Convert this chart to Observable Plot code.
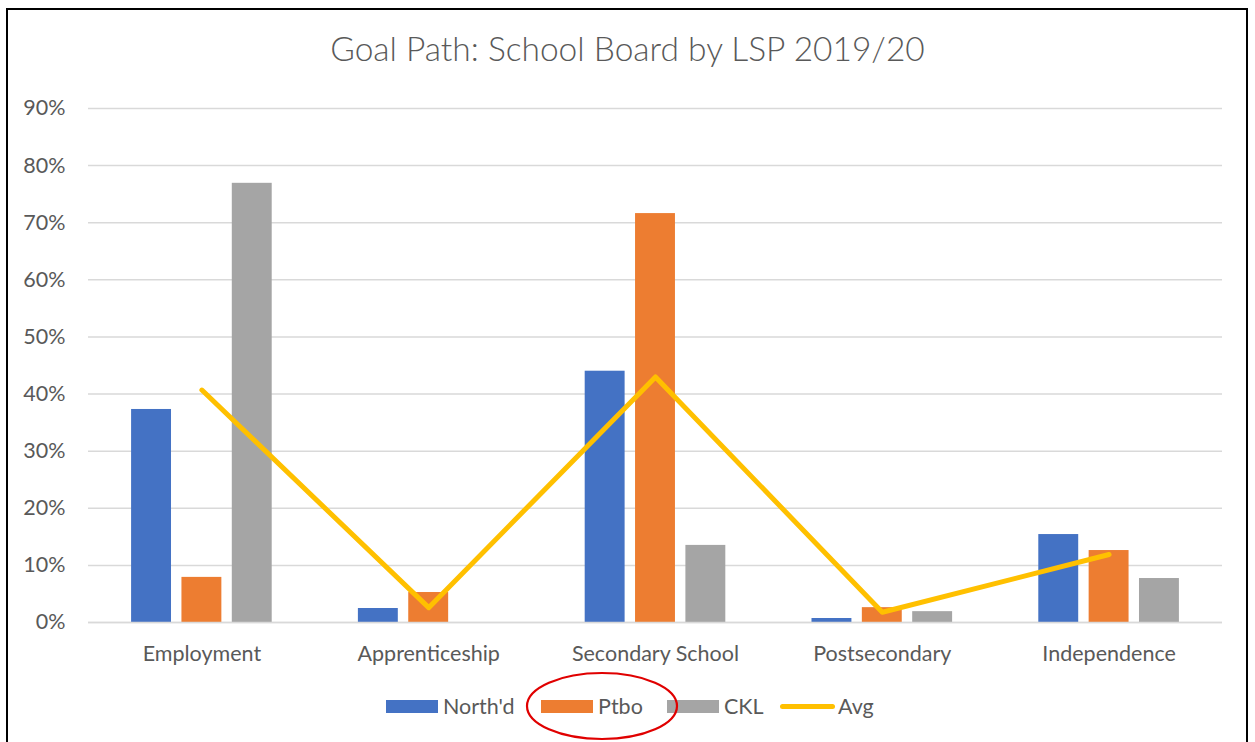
<!DOCTYPE html>
<html>
<head>
<meta charset="utf-8">
<script src="https://cdn.jsdelivr.net/npm/d3@7"></script>
<script src="https://cdn.jsdelivr.net/npm/@observablehq/plot@0.6"></script>
<style>
  html, body { margin: 0; padding: 0; background: #fff; }
  #wrap { position: relative; width: 1255px; height: 742px; overflow: hidden; font-family: Lato, "Open Sans", sans-serif; color: #595959; }
  #frame { position: absolute; left: 6px; top: 8px; width: 1242px; height: 760px; border: 2px solid #000; box-sizing: border-box; }
  #title { position: absolute; left: 0; width: 1255px; top: 28px; text-align: center; font-size: 33.5px; font-weight: 300; color: #595959; }
  #chart { position: absolute; left: 0; top: 90px; }
  #legend { position: absolute; left: 0; top: 693px; width: 1255px; height: 26px; }
  .li { position: absolute; top: 0; height: 26px; display: flex; align-items: center; font-size: 21.5px; color: #595959; }
  .sw { display: inline-block; width: 52px; height: 13px; margin-right: 5px; }
  .ln { display: inline-block; width: 55px; height: 5px; border-radius: 3px; margin-right: 3px; }
  #ring { position: absolute; left: 0; top: 0; pointer-events: none; }
</style>
</head>
<body>
<div id="wrap">
  <div id="frame"></div>
  <div id="title">Goal Path: School Board by LSP 2019/20</div>
  <div id="chart"></div>
  <div id="legend"></div>
  <svg id="ring" width="1255" height="742"><ellipse cx="602" cy="706" rx="75" ry="33" fill="none" stroke="#e00000" stroke-width="2.2"/></svg>
</div>
<script>
const categories = ["Employment", "Apprenticeship", "Secondary School", "Postsecondary", "Independence"];
const seriesNames = ["North'd", "Ptbo", "CKL"];
const northd = [0.373, 0.0245, 0.440, 0.007, 0.154];
const ptbo   = [0.079, 0.0525, 0.716, 0.026, 0.126];
const ckl    = [0.769, 0.000, 0.135, 0.019, 0.077];
const avg    = [0.407, 0.026, 0.430, 0.018, 0.119];
const yTicks = [0, 0.1, 0.2, 0.3, 0.4, 0.5, 0.6, 0.7, 0.8, 0.9];
const seriesColors = ["#4472C4", "#ED7D31", "#A5A5A5"];
const avgColor = "#FFC000";

const seriesValues = [northd, ptbo, ckl];
const rows = [];
seriesValues.forEach((vals, j) => vals.forEach((v, i) => rows.push({i, j, category: categories[i], series: seriesNames[j], value: v})));
const avgRows = avg.map((v, i) => ({i, value: v}));

const step = 0.222, half = 0.088;

const chart = Plot.plot({
  width: 1255,
  height: 590,
  marginLeft: 88,
  marginRight: 33,
  marginTop: 18,
  marginBottom: 58,
  style: { fontFamily: "Lato, 'Open Sans', sans-serif", fontSize: "21.5px", color: "#595959", background: "transparent" },
  x: { type: "linear", domain: [-0.5, 4.5], axis: null },
  y: { domain: [0, 0.9], axis: null },
  color: { domain: seriesNames, range: seriesColors },
  marks: [
    Plot.gridY(yTicks, { stroke: "#D9D9D9", strokeOpacity: 1, strokeWidth: 1.5 }),
    Plot.axisY(yTicks, { tickFormat: d => Math.round(d * 100) + "%", tickSize: 0, tickPadding: 23, fill: "#595959", fontSize: 21.5, label: null }),
    Plot.axisX([0, 1, 2, 3, 4], { tickFormat: i => categories[i], tickSize: 0, tickPadding: 23, fill: "#595959", fontSize: 21.5, label: null }),
    Plot.rectY(rows, {
      x1: d => d.i + (d.j - 1) * step - half,
      x2: d => d.i + (d.j - 1) * step + half,
      y1: 0, y2: "value", fill: "series"
    }),
    Plot.ruleY([0], { stroke: "#D9D9D9", strokeWidth: 1.5 }),
    Plot.lineY(avgRows, { x: "i", y: "value", stroke: avgColor, strokeWidth: 5, strokeLinecap: "round", strokeLinejoin: "round" })
  ]
});
document.getElementById("chart").appendChild(chart);

// legend
const legend = document.getElementById("legend");
const items = [
  {name: seriesNames[0], color: seriesColors[0], left: 386, type: "sw"},
  {name: seriesNames[1], color: seriesColors[1], left: 541, type: "sw"},
  {name: seriesNames[2], color: seriesColors[2], left: 667, type: "sw"},
  {name: "Avg", color: avgColor, left: 780, type: "ln"}
];
items.forEach(it => {
  const d = document.createElement("div");
  d.className = "li";
  d.style.left = it.left + "px";
  const s = document.createElement("span");
  s.className = it.type;
  s.style.background = it.color;
  d.appendChild(s);
  d.appendChild(document.createTextNode(it.name));
  legend.appendChild(d);
});
</script>
</body>
</html>
